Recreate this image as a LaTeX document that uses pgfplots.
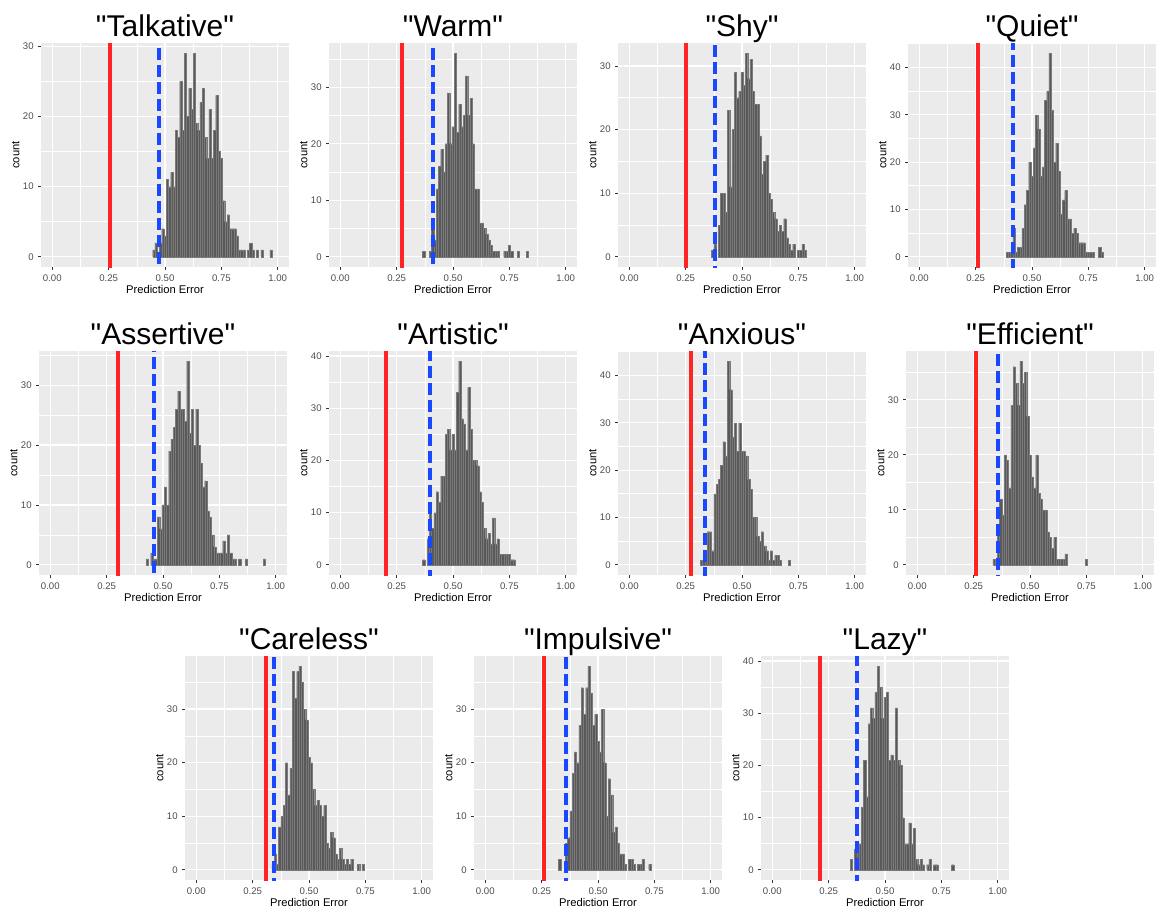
\documentclass[border=0pt]{standalone}
\usepackage{fontspec}
\setmainfont{Liberation Sans}[Ligatures=TeXOff]
\usepackage{pgfplots}
\pgfplotsset{compat=1.18}
\definecolor{ggbg}{HTML}{EBEBEB}
\definecolor{ggbar}{HTML}{595959}
\definecolor{ggbarline}{HTML}{7A7A7A}
\definecolor{ggred}{HTML}{FF2424}
\definecolor{ggblue}{HTML}{1A48FF}
\definecolor{ggtick}{HTML}{4D4D4D}
\definecolor{ggtickline}{HTML}{333333}
\pgfplotsset{
  ggpanel/.style={
    scale only axis, width=124pt, height=112pt, anchor=south west,
    xmin=-0.05, xmax=1.05,
    xtick={0,0.25,0.5,0.75,1}, xticklabels={0.00,0.25,0.50,0.75,1.00},
    minor xtick={0.125,0.375,0.625,0.875},
    ytick={0,10,20,30,40}, minor ytick={5,15,25,35,45},
    grid=both,
    major grid style={white, line width=0.6pt},
    minor grid style={white, line width=0.3pt},
    axis background/.style={fill=ggbg},
    axis line style={draw=none},
    tick align=outside, xtick pos=left, ytick pos=left,
    major tick length=1.5pt, minor tick length=0pt,
    tick style={ggtickline, line width=0.4pt},
    /pgf/number format/assume math mode=true,
    ticklabel style={font=\fontsize{4.8}{5.5}\selectfont, text=ggtick, inner sep=0pt},
    xticklabel style={yshift=-2.2pt},
    yticklabel style={xshift=-2pt},
    xlabel={Prediction Error}, ylabel={count},
    every axis x label/.style={at={(axis description cs:0.5,-0.08)}, anchor=north, inner sep=0pt, font=\fontsize{5.6}{6}\selectfont},
    every axis y label/.style={at={(axis description cs:-0.085,0.5)}, anchor=south, rotate=90, inner sep=0pt, font=\fontsize{5.6}{6}\selectfont},
    every axis title/.style={at={(axis description cs:0.5,1)}, anchor=base, yshift=3.5pt, inner sep=0pt, font=\fontsize{15}{17}\selectfont},
  },
  hist/.style={ybar, bar width=0.01, bar shift=0pt, fill=ggbar, draw=ggbarline, line width=0.1pt},
}
\newcommand{\reflines}[2]{%
  \addplot[ggred, line width=2pt] coordinates {(#1,-10) (#1,100)};
  \addplot[ggblue, line width=2pt, dash pattern=on 6pt off 2.5pt] coordinates {(#2,100) (#2,-10)};
}
\begin{document}
\begin{tikzpicture}
\path[use as bounding box] (0,0) rectangle (580pt,-456pt);

% Row 1
\begin{axis}[ggpanel, at={(20.5pt,-133.5pt)}, ymin=-1.45, ymax=30.45, title={"Talkative"}]
\addplot[hist] coordinates {(0.45,1)(0.46,2)(0.48,2)(0.49,4)(0.50,3)(0.51,11)(0.52,10)(0.53,12)(0.54,10)(0.55,18)(0.56,17)(0.57,25)(0.58,18)(0.59,29)(0.60,20)(0.61,24)(0.62,21)(0.63,29)(0.64,19)(0.65,18)(0.66,22)(0.67,24)(0.68,17)(0.69,14)(0.70,21)(0.71,14)(0.72,18)(0.73,23)(0.74,15)(0.75,14)(0.76,8)(0.77,5)(0.78,6)(0.79,4)(0.80,4)(0.81,4)(0.82,3)(0.83,1)(0.84,1)(0.85,1)(0.87,1)(0.88,2)(0.89,1)(0.91,1)(0.93,1)(0.97,1)};
\reflines{0.255}{0.473}
\end{axis}

\begin{axis}[ggpanel, at={(164.5pt,-133.5pt)}, ymin=-1.8, ymax=37.8, title={"Warm"}]
\addplot[hist] coordinates {(0.37,1)(0.40,1)(0.41,6)(0.42,3)(0.43,12)(0.44,16)(0.45,19)(0.46,15)(0.47,20)(0.48,29)(0.49,20)(0.50,23)(0.51,36)(0.52,22)(0.53,27)(0.54,23)(0.55,25)(0.56,32)(0.57,25)(0.58,28)(0.59,20)(0.60,12)(0.61,12)(0.62,6)(0.63,6)(0.64,5)(0.65,4)(0.66,3)(0.67,2)(0.68,1)(0.69,1)(0.70,1)(0.73,1)(0.74,1)(0.75,2)(0.76,1)(0.79,1)(0.83,1)};
\reflines{0.274}{0.413}
\end{axis}

\begin{axis}[ggpanel, at={(309pt,-133.5pt)}, ymin=-1.6, ymax=33.6, title={"Shy"}]
\addplot[hist] coordinates {(0.37,1)(0.38,2)(0.40,5)(0.41,10)(0.42,10)(0.43,7)(0.44,23)(0.45,11)(0.46,20)(0.47,29)(0.48,25)(0.49,26)(0.50,29)(0.51,27)(0.52,32)(0.53,28)(0.54,31)(0.55,26)(0.56,24)(0.57,24)(0.58,19)(0.59,13)(0.60,15)(0.61,16)(0.62,10)(0.63,9)(0.64,7)(0.65,6)(0.66,4)(0.67,5)(0.68,4)(0.69,6)(0.70,3)(0.71,2)(0.72,1)(0.73,2)(0.75,1)(0.76,1)(0.77,2)(0.78,1)};
\reflines{0.25}{0.381}
\end{axis}

\begin{axis}[ggpanel, at={(454pt,-133.5pt)}, ymin=-2.15, ymax=45.15, title={"Quiet"}]
\addplot[hist] coordinates {(0.39,1)(0.40,1)(0.41,1)(0.42,6)(0.43,1)(0.44,2)(0.45,2)(0.46,6)(0.47,11)(0.48,14)(0.49,20)(0.50,17)(0.51,23)(0.52,30)(0.53,27)(0.54,17)(0.55,19)(0.56,33)(0.57,35)(0.58,43)(0.59,31)(0.60,20)(0.61,24)(0.62,18)(0.63,9)(0.64,12)(0.65,14)(0.66,8)(0.67,8)(0.68,5)(0.69,6)(0.70,5)(0.71,3)(0.72,3)(0.73,3)(0.74,1)(0.75,1)(0.76,1)(0.77,1)(0.80,2)(0.81,1)};
\reflines{0.262}{0.417}
\end{axis}

% Row 2
\begin{axis}[ggpanel, at={(19.5pt,-287.5pt)}, ymin=-1.7, ymax=35.7, title={"Assertive"}]
\addplot[hist] coordinates {(0.43,1)(0.45,2)(0.46,1)(0.47,1)(0.48,8)(0.49,6)(0.50,10)(0.51,13)(0.52,10)(0.53,19)(0.54,21)(0.55,23)(0.56,26)(0.57,29)(0.58,26)(0.59,26)(0.60,24)(0.61,34)(0.62,22)(0.63,26)(0.64,20)(0.65,26)(0.66,20)(0.67,17)(0.68,13)(0.69,14)(0.70,9)(0.71,8)(0.72,5)(0.73,3)(0.74,2)(0.75,2)(0.76,2)(0.77,4)(0.78,2)(0.79,5)(0.80,2)(0.81,1)(0.82,1)(0.84,1)(0.87,1)(0.95,1)};
\reflines{0.302}{0.459}
\end{axis}

\begin{axis}[ggpanel, at={(164.5pt,-287.5pt)}, ymin=-1.95, ymax=40.95, title={"Artistic"}]
\addplot[hist] coordinates {(0.37,1)(0.39,5)(0.40,11)(0.41,7)(0.42,10)(0.43,14)(0.44,12)(0.45,17)(0.46,17)(0.47,25)(0.48,26)(0.49,22)(0.50,25)(0.51,22)(0.52,33)(0.53,39)(0.54,28)(0.55,27)(0.56,22)(0.57,34)(0.58,26)(0.59,20)(0.60,20)(0.61,19)(0.62,14)(0.63,12)(0.64,7)(0.65,5)(0.66,6)(0.67,4)(0.68,9)(0.69,4)(0.70,5)(0.71,2)(0.72,2)(0.73,2)(0.74,2)(0.75,2)(0.76,1)(0.77,1)};
\reflines{0.202}{0.40}
\end{axis}

\begin{axis}[ggpanel, at={(309pt,-287.5pt)}, ymin=-2.15, ymax=45.15, title={"Anxious"}]
\addplot[hist] coordinates {(0.32,1)(0.33,1)(0.34,3)(0.35,7)(0.36,7)(0.37,3)(0.38,15)(0.39,17)(0.40,18)(0.41,21)(0.42,26)(0.43,23)(0.44,43)(0.45,37)(0.46,27)(0.47,30)(0.48,24)(0.49,30)(0.50,24)(0.51,24)(0.52,23)(0.53,18)(0.54,16)(0.55,10)(0.56,10)(0.57,6)(0.58,5)(0.59,7)(0.60,4)(0.61,3)(0.62,1)(0.63,3)(0.64,1)(0.65,2)(0.66,2)(0.67,1)(0.71,1)};
\reflines{0.275}{0.335}
\end{axis}

\begin{axis}[ggpanel, at={(453pt,-287.5pt)}, ymin=-1.85, ymax=38.85, title={"Efficient"}]
\addplot[hist] coordinates {(0.34,1)(0.36,6)(0.37,12)(0.38,9)(0.39,20)(0.40,19)(0.41,14)(0.42,29)(0.43,36)(0.44,33)(0.45,29)(0.46,37)(0.47,33)(0.48,35)(0.49,27)(0.50,20)(0.51,16)(0.52,14)(0.53,20)(0.54,13)(0.55,12)(0.56,10)(0.57,10)(0.58,6)(0.59,5)(0.60,3)(0.61,5)(0.62,1)(0.63,1)(0.64,1)(0.65,1)(0.66,2)(0.75,1)};
\reflines{0.26}{0.36}
\end{axis}

% Row 3
\begin{axis}[ggpanel, at={(92.5pt,-440pt)}, ymin=-1.9, ymax=39.9, title={"Careless"}]
\addplot[hist] coordinates {(0.34,1)(0.35,3)(0.36,1)(0.37,8)(0.38,10)(0.39,12)(0.40,20)(0.41,14)(0.42,19)(0.43,37)(0.44,32)(0.45,37)(0.46,38)(0.47,35)(0.48,30)(0.49,28)(0.50,21)(0.51,20)(0.52,15)(0.53,12)(0.54,13)(0.55,12)(0.56,10)(0.57,12)(0.58,5)(0.59,4)(0.60,7)(0.61,6)(0.62,3)(0.63,2)(0.64,4)(0.65,2)(0.66,1)(0.67,2)(0.68,1)(0.69,2)(0.72,1)(0.74,1)};
\reflines{0.31}{0.345}
\end{axis}

\begin{axis}[ggpanel, at={(237pt,-440pt)}, ymin=-1.9, ymax=39.9, title={"Impulsive"}]
\addplot[hist] coordinates {(0.33,2)(0.36,5)(0.37,6)(0.38,11)(0.39,18)(0.40,22)(0.41,20)(0.42,27)(0.43,34)(0.44,29)(0.45,34)(0.46,38)(0.47,33)(0.48,27)(0.49,29)(0.50,24)(0.51,22)(0.52,30)(0.53,20)(0.54,10)(0.55,17)(0.56,14)(0.57,7)(0.58,8)(0.59,5)(0.60,3)(0.61,3)(0.62,1)(0.64,2)(0.65,2)(0.66,1)(0.68,1)(0.69,1)(0.70,2)(0.73,1)};
\reflines{0.26}{0.357}
\end{axis}

\begin{axis}[ggpanel, at={(380.5pt,-440pt)}, ymin=-1.95, ymax=40.95, title={"Lazy"}]
\addplot[hist] coordinates {(0.35,2)(0.37,4)(0.38,5)(0.39,5)(0.40,12)(0.41,21)(0.42,14)(0.43,28)(0.44,31)(0.45,29)(0.46,34)(0.47,39)(0.48,35)(0.49,29)(0.50,33)(0.51,34)(0.52,21)(0.53,22)(0.54,21)(0.55,31)(0.56,21)(0.57,20)(0.58,10)(0.59,5)(0.60,5)(0.61,9)(0.62,5)(0.63,8)(0.64,2)(0.65,1)(0.66,2)(0.67,1)(0.69,1)(0.70,2)(0.72,1)(0.73,1)(0.80,1)};
\reflines{0.212}{0.376}
\end{axis}
\end{tikzpicture}
\end{document}
